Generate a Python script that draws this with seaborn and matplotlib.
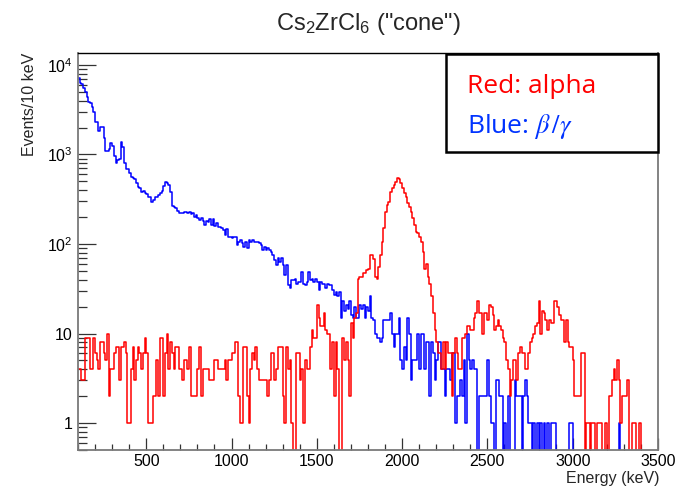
import numpy as np
import pandas as pd
import matplotlib.pyplot as plt
import matplotlib.ticker as mticker
from matplotlib.patches import Rectangle
import seaborn as sns

# Binning of the spectra (keV)
bin_lo = 100
bin_hi = 3500
bin_w = 10

# Blue: beta/gamma events per 10 keV bin
beta_gamma = [
    7100, 6350, 6140, 5490, 5040, 4430, 3890, 3800, 3430, 3010,
    2330, 2330, 1830, 2050, 2050, 1520, 1100, 1100, 1140, 1360,
    1245, 960, 810, 870, 880, 1380, 1200, 800, 684, 684,
    617, 557, 543, 529, 477, 438, 420, 385, 395, 375,
    362, 338, 338, 297, 310, 332, 332, 353, 368, 395,
    446, 490, 476, 457, 385, 266, 261, 250, 236, 220,
    224, 220, 230, 230, 220, 230, 215, 220, 202, 211,
    194, 186, 194, 182, 163, 182, 178, 189, 163, 189,
    159, 170, 156, 156, 150, 143, 126, 146, 119, 121,
    116, 119, 121, 97, 106, 111, 102, 93, 106, 90,
    111, 106, 111, 106, 104, 106, 102, 97, 86, 93,
    86, 90, 86, 82, 75, 66, 58, 69, 63, 69,
    58, 45, 58, 35, 32, 40, 40, 41, 36, 38,
    38, 49, 36, 35, 38, 49, 40, 41, 38, 41,
    38, 31, 38, 36, 36, 32, 36, 35, 35, 31,
    27, 29, 26, 29, 15, 23, 18, 21, 19, 23,
    16, 15, 20, 15, 15, 21, 19, 21, 15, 20,
    18, 26, 15, 14, 10, 9, 9, 8, 9, 14,
    14, 14, 14, 17, 10, 7, 10, 10, 15, 5,
    4, 7, 5, 15, 10, 3, 5, 5, 5, 10,
    4, 10, 10, 4, 8, 8, 2, 8, 6, 3,
    5, 8, 8, 4, 4, 2, 4, 4, 3, 6,
    6, 1, 2, 2, 3, 2, 5, 1, 10, 5,
    4, 5, 4, 4, 0, 2, 2, 2, 2, 2,
    5, 2, 1, 1, 0, 3, 3, 2, 2, 0,
    1, 0, 2, 0, 0, 0, 3, 2, 2, 2,
    0, 2, 3, 2, 1, 1, 0, 1, 0, 1,
    0, 1, 0, 1, 0, 1, 0, 1, 1, 1,
    0, 0, 0, 0, 0, 0, 0, 0, 1, 1,
    0, 0, 0, 0, 0, 0, 0, 0, 0, 0,
    0, 0, 0, 0, 0, 0, 0, 0, 0, 0,
    0, 0, 0, 0, 0, 0, 0, 1, 0, 0,
    0, 0, 0, 0, 0, 0, 0, 0, 0, 0,
    0, 0, 0, 0, 0, 0, 0, 0, 0, 0,
]

# Red: alpha events per 10 keV bin
alpha = [
    4, 4, 3, 3, 9, 9, 9, 4, 4, 9,
    6, 5, 4, 8, 8, 6, 5, 10, 2, 4,
    4, 6, 7, 7, 3, 7, 7, 8, 6, 1,
    1, 4, 7, 3, 5, 7, 6, 4, 6, 9,
    6, 1, 1, 1, 2, 2, 5, 2, 9, 9,
    2, 6, 10, 4, 8, 6, 4, 7, 7, 4,
    4, 3, 5, 5, 4, 7, 2, 2, 2, 2,
    4, 7, 2, 4, 4, 4, 4, 3, 3, 3,
    5, 5, 4, 4, 4, 4, 5, 3, 5, 5,
    6, 6, 8, 8, 2, 1, 1, 7, 7, 2,
    1, 4, 6, 5, 7, 4, 3, 3, 3, 3,
    3, 2, 3, 6, 6, 3, 4, 7, 7, 7,
    2, 1, 7, 4, 5, 1, 0, 0, 6, 6,
    3, 4, 1, 5, 4, 4, 7, 11, 9, 9,
    21, 15, 12, 12, 17, 11, 10, 10, 4, 8,
    2, 8, 4, 0, 0, 9, 5, 8, 5, 2,
    13, 9, 15, 17, 41, 43, 43, 47, 47, 51,
    53, 75, 75, 68, 43, 41, 55, 75, 106, 150,
    230, 273, 297, 384, 419, 456, 497, 542, 528, 476,
    419, 368, 338, 285, 261, 230, 194, 163, 137, 132,
    121, 106, 81, 53, 60, 43, 36, 26, 17, 11,
    8, 6, 6, 4, 8, 4, 8, 6, 6, 2,
    6, 9, 6, 4, 4, 9, 9, 10, 12, 12,
    11, 11, 15, 17, 23, 17, 17, 10, 17, 17,
    14, 21, 20, 16, 11, 12, 14, 12, 11, 9,
    8, 5, 4, 2, 3, 5, 5, 3, 6, 7,
    6, 6, 4, 4, 6, 8, 9, 10, 12, 13,
    23, 10, 18, 17, 14, 11, 14, 13, 13, 23,
    23, 20, 16, 14, 14, 8, 14, 8, 7, 7,
    5, 2, 2, 2, 2, 6, 6, 0, 1, 1,
    0, 1, 1, 0, 1, 1, 1, 0, 0, 1,
    0, 2, 2, 3, 4, 3, 5, 3, 1, 2,
    2, 2, 3, 0, 0, 1, 1, 0, 0, 1,
    0, 0, 0, 0, 0, 0, 0, 0, 0, 0,
]

y_ticks = [1, 10, 100, 1000, 10000]
y_tick_labels = ['1', '10', r'$\mathregular{10^{2}}$', r'$\mathregular{10^{3}}$', r'$\mathregular{10^{4}}$']

sns.set_theme(style='white')
plt.rcParams['font.family'] = ['Liberation Sans', 'DejaVu Sans']

centers = np.arange(bin_lo, bin_hi, bin_w) + bin_w / 2
df = pd.DataFrame({'energy': centers, 'beta_gamma': beta_gamma, 'alpha': alpha})

fig = plt.figure(figsize=(6.77, 4.88), dpi=100)
ax = fig.add_axes([78 / 677, 38 / 488, 580 / 677, 397 / 488])

# step histograms, ROOT style
sns.histplot(data=df, x='energy', weights='beta_gamma', binwidth=bin_w,
             binrange=(bin_lo, bin_hi), element='step', fill=False,
             color='#0000ff', linewidth=1.1, ax=ax)
sns.histplot(data=df, x='energy', weights='alpha', binwidth=bin_w,
             binrange=(bin_lo, bin_hi), element='step', fill=False,
             color='#ff0000', linewidth=1.1, ax=ax)

ax.set_yscale('log')
ax.set_xlim(bin_lo, bin_hi)
ax.set_ylim(0.5, 1.36e4)
ax.set_xlabel('')
ax.set_ylabel('')

# axes and ticks (inside, bottom and left only)
ax.xaxis.set_major_locator(mticker.MultipleLocator(500))
ax.xaxis.set_minor_locator(mticker.MultipleLocator(100))
ax.yaxis.set_major_locator(mticker.FixedLocator(y_ticks))
ax.yaxis.set_major_formatter(mticker.FixedFormatter(y_tick_labels))
ax.yaxis.set_minor_locator(mticker.LogLocator(base=10, subs=np.arange(2, 10), numticks=20))
ax.yaxis.set_minor_formatter(mticker.NullFormatter())
ax.tick_params(axis='both', which='both', direction='in', bottom=True, left=True,
               top=False, right=False, color='#333333', width=0.9, labelcolor='black')
ax.tick_params(axis='x', which='major', length=8.6, pad=3, labelsize=11.5)
ax.tick_params(axis='x', which='minor', length=4.3)
ax.tick_params(axis='y', which='major', length=13, pad=4, labelsize=11.5)
ax.tick_params(axis='y', which='minor', length=6.5)

for side in ['left', 'bottom', 'right']:
    ax.spines[side].set_color('#7a7a7a')
    ax.spines[side].set_linewidth(1.3)
ax.spines['top'].set_color('black')
ax.spines['top'].set_linewidth(1.0)

# titles
fig.text(368 / 677, 1 - 30 / 488, r'$\mathregular{Cs_2ZrCl_6}$ ("cone")',
         ha='center', va='baseline', fontsize=17)
fig.text(29 / 677, 1 - 53 / 488, 'Events/10 keV', rotation=90,
         ha='center', va='top', fontsize=11.5)
fig.text(659 / 677, 1 - 478 / 488, 'Energy (keV)', ha='right', va='center', fontsize=11.5)

# legend box
ax.add_patch(Rectangle((0.6345, 0.7506), 0.3655, 0.2469, transform=ax.transAxes,
                       facecolor='white', edgecolor='black', linewidth=1.8,
                       clip_on=False, zorder=5))
ax.text(0.6707, 0.8985, 'Red: alpha', transform=ax.transAxes, color='#ff0000',
        fontsize=19, family=['Open Sans', 'DejaVu Sans'], va='baseline', zorder=6)
ax.text(0.6707, 0.7977, r'Blue: $\beta\,/\gamma$', transform=ax.transAxes, color='#0033ff',
        fontsize=19, family=['Open Sans', 'DejaVu Sans'], math_fontfamily='stix',
        va='baseline', zorder=6)

fig.savefig('out.png', dpi=100)
print('saved out.png')
